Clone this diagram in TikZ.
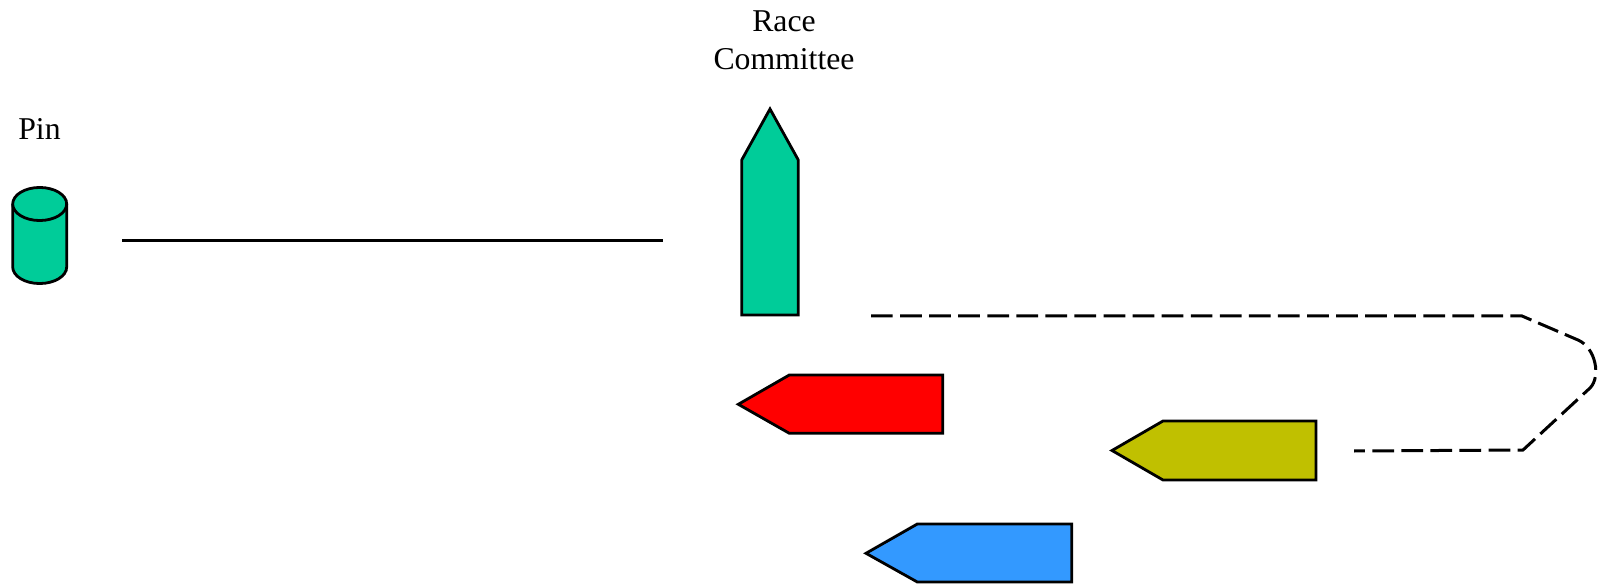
\documentclass[tikz,border=0pt]{standalone}
\usepackage{fontspec}
\setmainfont{Liberation Serif}
\usetikzlibrary{positioning}
\definecolor{rcgreen}{RGB}{0,204,153}
\definecolor{boatred}{RGB}{255,0,0}
\definecolor{boatolive}{RGB}{192,192,0}
\definecolor{boatblue}{RGB}{51,153,255}
\tikzstyle{hull}=[draw=black,line width=2.1pt,line join=miter]
\tikzstyle{caption}=[font=\fontsize{23.8}{28.5}\selectfont,inner sep=0pt,anchor=base]
\tikzstyle{startline}=[draw=black,line width=2.25pt]
\tikzstyle{course}=[draw=black,line width=2.25pt,dash pattern=on 16.3pt off 5.5pt]

\begin{document}
\begin{tikzpicture}[x=0.75pt,y=-0.75pt]
\useasboundingbox (0,0) rectangle (1598,584);

% labels
\node[caption] (pintxt) at (39.5,140) {Pin};
\node[caption] (racetxt) at (784,32) {Race};
\node[caption] (committeetxt) at (784,70) {Committee};

% pin buoy
\fill[rcgreen] (12.7,204) rectangle (66.7,267);
\fill[rcgreen] (39.7,267) ellipse [x radius=20.25pt, y radius=12.4pt];
\draw[hull] (12.7,204) -- (12.7,267) arc [start angle=180, end angle=360, x radius=20.25pt, y radius=12.4pt] -- (66.7,204);
\filldraw[hull,fill=rcgreen] (39.7,204) ellipse [x radius=20.25pt, y radius=12.4pt];

% race committee boat
\filldraw[hull,fill=rcgreen] (770,109) -- (798.3,160) -- (798.3,315) -- (741.7,315) -- (741.7,160) -- cycle;

% start line
\coordinate (linepin) at (122,241);
\coordinate (linerc) at (663,241);
\draw[startline] (linepin) -- (linerc);

% course to the line
\coordinate (c1) at (871,316);
\coordinate (c2) at (1522,316);
\coordinate (c3) at (1578,340);
\coordinate (c4) at (1590,388);
\coordinate (c5) at (1523,450);
\coordinate (c6) at (1354,451);
\draw[course] (c1) -- (c2) -- (c3) .. controls (1596,348) and (1601,377) .. (c4) -- (c5) -- (c6);

% boats
\filldraw[hull,fill=boatred] (738.3,404.3) -- (789.3,375) -- (942.7,375) -- (942.7,433.3) -- (789.3,433.3) -- cycle;
\filldraw[hull,fill=boatolive] (1112,450.5) -- (1163,421) -- (1316,421) -- (1316,480) -- (1163,480) -- cycle;
\filldraw[hull,fill=boatblue] (866,553.3) -- (917.3,524) -- (1071.7,524) -- (1071.7,582) -- (917.3,582) -- cycle;
\end{tikzpicture}
\end{document}
